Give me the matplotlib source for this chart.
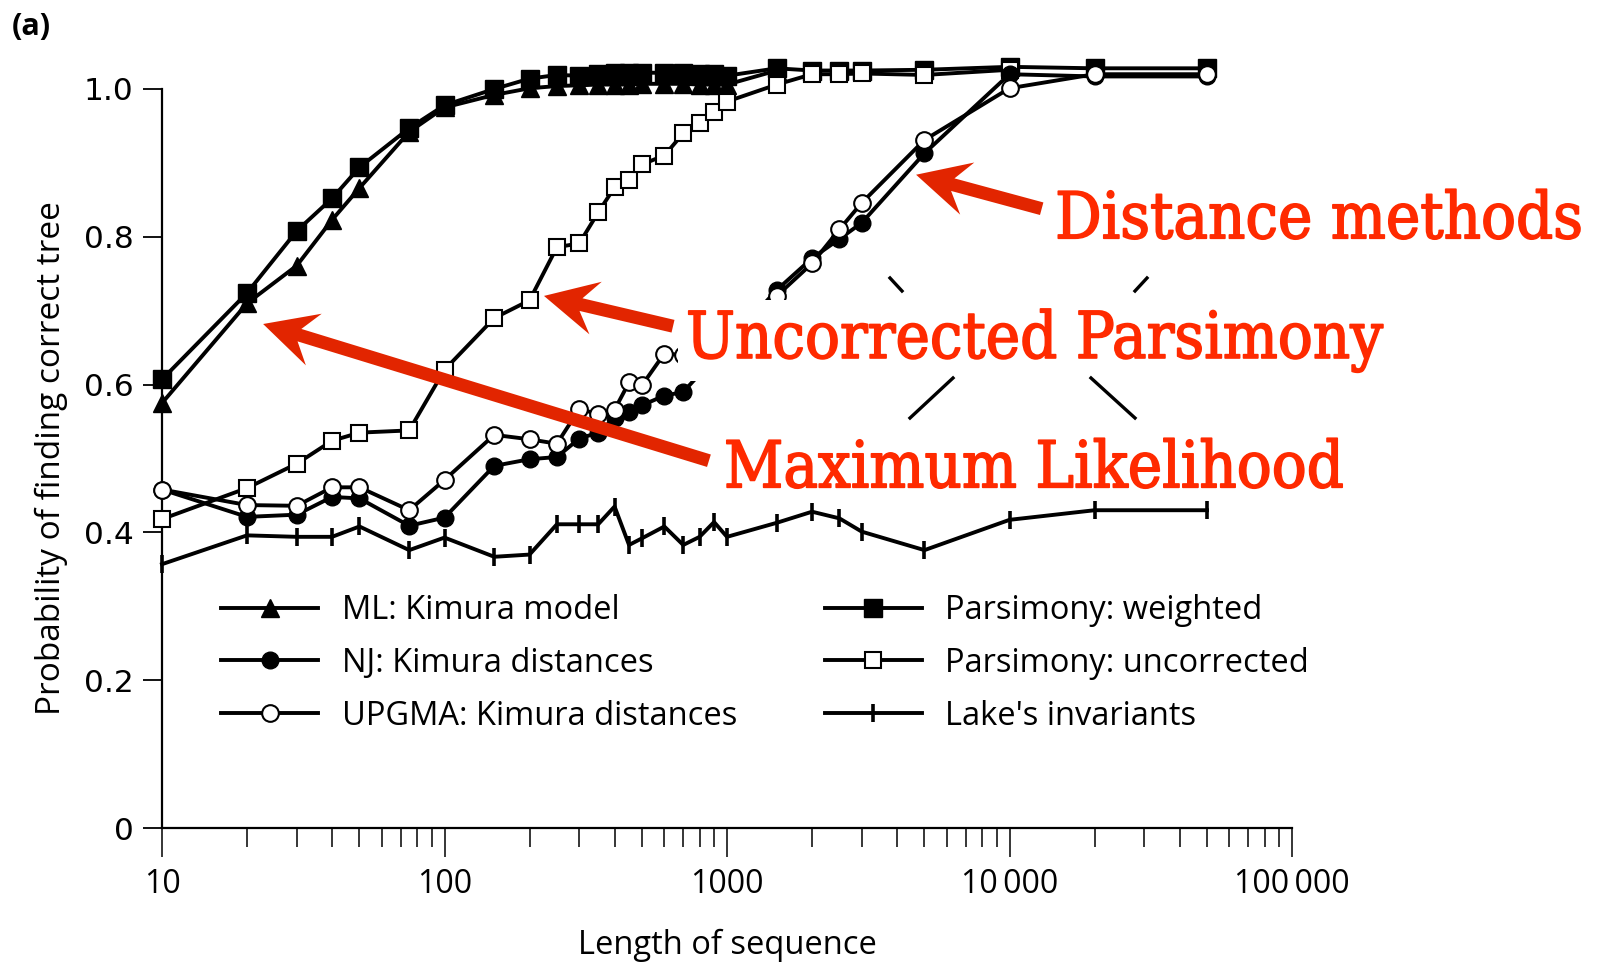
import numpy as np
import matplotlib
matplotlib.use('Agg')
import matplotlib.pyplot as plt
import matplotlib.patheffects as pe
from matplotlib.patches import Polygon
from matplotlib.lines import Line2D
from matplotlib.transforms import IdentityTransform
from matplotlib.ticker import LogLocator, NullFormatter

# ML: Kimura model
x_ml = [10, 20, 30, 40, 50, 75, 100, 150, 200, 250, 300, 350, 400, 450, 500, 600, 700, 800, 900, 1000, 1500]
y_ml = [0.575, 0.710, 0.761, 0.823, 0.866, 0.942, 0.975, 0.992, 1.001, 1.004, 1.005, 1.006, 1.006, 1.006,
        1.007, 1.007, 1.007, 1.006, 1.006, 1.006, 1.025]

# Parsimony: weighted
x_wp = [10, 20, 30, 40, 50, 75, 100, 150, 200, 250, 300, 350, 400, 450, 500, 600, 700, 800, 900, 1000,
        1500, 2000, 2500, 3000, 5000, 10000, 20000, 50000]
y_wp = [0.607, 0.724, 0.808, 0.852, 0.894, 0.947, 0.978, 1.000, 1.014, 1.019, 1.018, 1.020, 1.021, 1.021,
        1.022, 1.022, 1.021, 1.020, 1.020, 1.018, 1.028, 1.025, 1.025, 1.025, 1.026, 1.030, 1.028, 1.028]

# Parsimony: uncorrected
x_up = [10, 20, 30, 40, 50, 75, 100, 150, 200, 250, 300, 350, 400, 450, 500, 600, 700, 800, 900, 1000,
        1500, 2000, 2500, 3000, 5000, 10000]
y_up = [0.418, 0.460, 0.493, 0.524, 0.535, 0.538, 0.620, 0.690, 0.714, 0.786, 0.791, 0.833, 0.867, 0.877,
        0.898, 0.910, 0.940, 0.954, 0.969, 0.983, 1.006, 1.020, 1.020, 1.021, 1.019, 1.026]

# NJ: Kimura distances
x_nj = [10, 20, 30, 40, 50, 75, 100, 150, 200, 250, 300, 350, 400, 450, 500, 600, 700,
        1500, 2000, 2500, 3000, 5000, 10000, 20000, 50000]
y_nj = [0.458, 0.421, 0.424, 0.448, 0.446, 0.409, 0.420, 0.490, 0.499, 0.502, 0.527, 0.535, 0.555, 0.563,
        0.572, 0.585, 0.590, 0.728, 0.771, 0.797, 0.819, 0.913, 1.020, 1.017, 1.017]

# UPGMA: Kimura distances
x_upgma = [10, 20, 30, 40, 50, 75, 100, 150, 200, 250, 300, 350, 400, 450, 500, 600, 700,
           1500, 2000, 2500, 3000, 5000, 10000, 20000, 50000]
y_upgma = [0.458, 0.437, 0.436, 0.461, 0.461, 0.430, 0.471, 0.532, 0.526, 0.520, 0.567, 0.560, 0.566, 0.603,
           0.599, 0.642, 0.640, 0.720, 0.764, 0.810, 0.846, 0.931, 1.001, 1.020, 1.020]

# Lake's invariants
x_lake = [10, 20, 30, 40, 50, 75, 100, 150, 200, 250, 300, 350, 400, 450, 500, 600, 700, 800, 900, 1000,
          1500, 2000, 2500, 3000, 5000, 10000, 20000, 50000]
y_lake = [0.357, 0.396, 0.394, 0.394, 0.408, 0.376, 0.393, 0.367, 0.370, 0.411, 0.411, 0.411, 0.435, 0.383,
          0.392, 0.408, 0.383, 0.394, 0.414, 0.394, 0.413, 0.428, 0.419, 0.401, 0.376, 0.417, 0.430, 0.430]

x_ticks = [10, 100, 1000, 10000, 100000]
x_tick_labels = ['10', '100', '1000', '10\u2009000', '100\u2009000']
y_ticks = [0, 0.2, 0.4, 0.6, 0.8, 1.0]
y_tick_labels = ['0', '0.2', '0.4', '0.6', '0.8', '1.0']

# red call-outs: (label, text anchor, arrow tail, arrow tip) in data units
callouts = [
    ('Distance methods', (14500, 0.798), (13000, 0.838), (4670, 0.884)),
    ('Uncorrected Parsimony', (716, 0.636), (644, 0.679), (225, 0.720)),
    ('Maximum Likelihood', (975, 0.461), (863, 0.497), (22.8, 0.682)),
]

text_red = '#ff2a00'
arrow_red = '#e22500'
sans = ['Open Sans', 'DejaVu Sans']
narrow = ['Liberation Sans Narrow', 'Open Sans', 'DejaVu Sans']

W, H = 1599, 964
fig = plt.figure(figsize=(W / 100, H / 100), dpi=100)
ax = fig.add_axes([162 / W, 136 / H, 1130 / W, 739 / H])

common = dict(color='black', lw=2.8, clip_on=False)
h_ml, = ax.plot(x_ml, y_ml, marker='^', ms=13, mfc='black', mec='black', zorder=3, **common)
h_wp, = ax.plot(x_wp, y_wp, marker='s', ms=12.5, mfc='black', mec='black', zorder=4, **common)
h_up, = ax.plot(x_up, y_up, marker='s', ms=12, mfc='white', mec='black', mew=1.5, zorder=5, **common)
h_nj, = ax.plot(x_nj, y_nj, marker='o', ms=12, mfc='black', mec='black', zorder=6, **common)
h_upgma, = ax.plot(x_upgma, y_upgma, marker='o', ms=12, mfc='white', mec='black', mew=1.5, zorder=7, **common)
h_lake, = ax.plot(x_lake, y_lake, marker='|', ms=13, mew=2.6, zorder=3, **common)

ax.set_xscale('log')
ax.set_xlim(10, 100000)
ax.set_ylim(0, 1.0)
ax.set_xticks(x_ticks)
ax.set_xticklabels(x_tick_labels)
ax.xaxis.set_minor_locator(LogLocator(base=10, subs=np.arange(2, 10)))
ax.xaxis.set_minor_formatter(NullFormatter())
ax.set_yticks(y_ticks)
ax.set_yticklabels(y_tick_labels)

for side in ['top', 'right']:
    ax.spines[side].set_visible(False)
for side in ['left', 'bottom']:
    ax.spines[side].set_linewidth(1.6)

ax.tick_params(axis='x', which='major', length=21, width=1.1, pad=8, labelsize=23)
ax.tick_params(axis='x', which='minor', length=14, width=1.1)
ax.tick_params(axis='y', length=13.5, width=1.3, pad=7, labelsize=22.5)
for lab in ax.get_xticklabels():
    lab.set_fontfamily(narrow)
for lab in ax.get_yticklabels():
    lab.set_fontfamily(['DejaVu Sans'])

ax.set_xlabel('Length of sequence', fontsize=23.5, family=sans)
ax.set_ylabel('Probability of finding correct tree', fontsize=24, family=sans)
ax.xaxis.set_label_coords(0.5, -0.137)
ax.yaxis.set_label_coords(-0.083, 0.5)

fig.text(12 / W, 1 - 35 / H, '(a)', fontsize=22, fontweight='bold', family=sans, va='baseline')

leg = ax.legend([h_ml, h_nj, h_upgma, h_wp, h_up, h_lake],
                ['ML: Kimura model', 'NJ: Kimura distances', 'UPGMA: Kimura distances',
                 'Parsimony: weighted', 'Parsimony: uncorrected', "Lake's invariants"],
                ncol=2, frameon=False, loc='upper left',
                bbox_to_anchor=(221 / W, 1 - 594 / H), bbox_transform=fig.transFigure,
                borderpad=0, borderaxespad=0, handlelength=2.98, handletextpad=0.72,
                columnspacing=2.68, labelspacing=0.61, prop={'family': sans, 'size': 23.5})

# stray strokes left between the call-out boxes
strokes = [((890, 278), (902, 291)), ((1135, 291), (1147, 278)),
           ((953, 378), (910, 418)), ((1091, 378), (1135, 418))]
for (x0, y0), (x1, y1) in strokes:
    fig.add_artist(Line2D([x0, x1], [H - y0, H - y1], color='black', lw=2.4,
                          transform=IdentityTransform()))


def red_arrow(tail, tip, shaft=13, head_len=53, neck=38, head_half=27):
    p0 = ax.transData.transform(tail)
    p1 = ax.transData.transform(tip)
    u = (p1 - p0) / np.hypot(*(p1 - p0))
    n = np.array([-u[1], u[0]])
    w = shaft / 2
    nk = p1 - u * neck
    back = p1 - u * head_len
    pts = [p0 + n * w, nk + n * w, back + n * head_half, p1,
           back - n * head_half, nk - n * w, p0 - n * w]
    fig.add_artist(Polygon(pts, closed=True, fc=arrow_red, ec='none', zorder=12,
                           transform=IdentityTransform()))


for label, pos, tail, tip in callouts:
    box = None
    if label == 'Uncorrected Parsimony':
        box = dict(boxstyle='square,pad=0.12', fc='white', ec='none')
    ax.text(pos[0], pos[1], label, color=text_red, fontsize=46.5, family=['DejaVu Serif'],
            fontstretch='condensed', ha='left', va='baseline', zorder=11, bbox=box,
            path_effects=[pe.withStroke(linewidth=1.2, foreground=text_red)])
    red_arrow(tail, tip)

fig.savefig('out.png', dpi=100)
